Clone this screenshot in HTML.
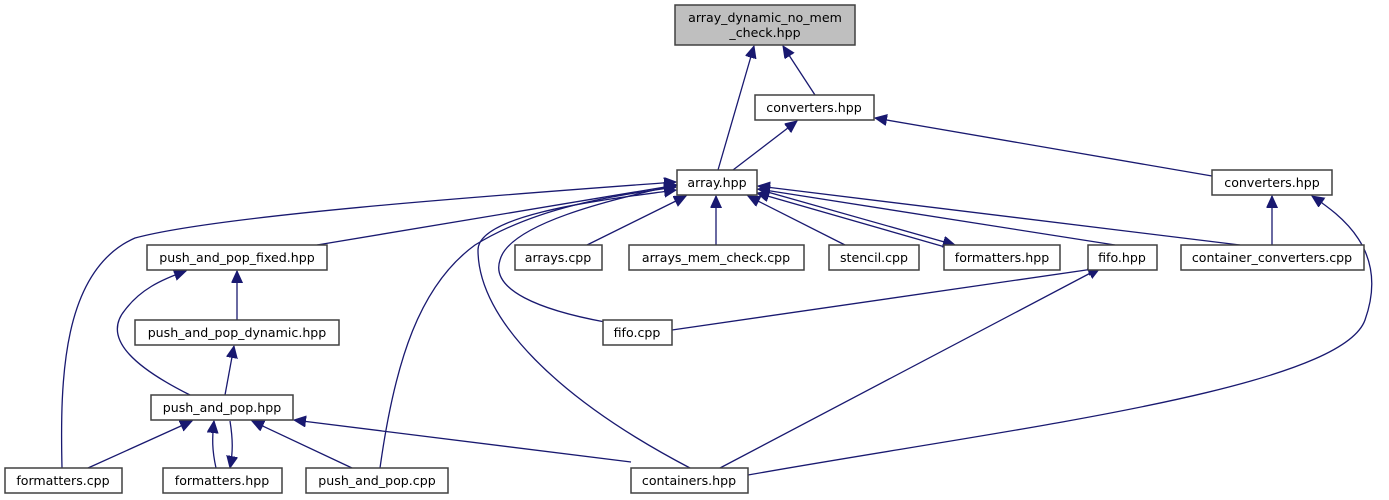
<!DOCTYPE html>
<html><head><meta charset="utf-8"><style>
html,body{margin:0;padding:0;background:#fff;width:1389px;height:500px;overflow:hidden}
svg{display:block}
text{font-family:"DejaVu Sans","Liberation Sans",sans-serif;font-size:12.6px;fill:#000;text-anchor:middle}
rect{fill:#fff;stroke:#404040;stroke-width:1.5}
path{fill:none;stroke:#191970;stroke-width:1.3}
</style></head><body>
<svg width="1389" height="500" viewBox="0 0 1389 500" xmlns="http://www.w3.org/2000/svg">
<defs><marker id="a" markerUnits="userSpaceOnUse" markerWidth="14" markerHeight="12" refX="12" refY="5.5" orient="auto"><path d="M0,0 L12,5.5 L0,11 Z" style="fill:#191970;stroke:#191970;stroke-width:1"/></marker></defs>
<g marker-end="url(#a)">
<path d="M718,170 L754,46"/>
<path d="M815,95 L783,46"/>
<path d="M733,170 L797,121"/>
<path d="M1212,176 L875,118"/>
<path d="M1272,245 L1272,196"/>
<path d="M748,475 C1000,430 1340,390 1365,320 C1390,250 1340,215 1312,196"/>
<path d="M587,245 L686,196"/>
<path d="M716,245 L716,196"/>
<path d="M845,245 L748,196"/>
<path d="M945,247 L757,193"/>
<path d="M757,189 L955,245"/>
<path d="M1115,245 L758,189"/>
<path d="M1240,245 L758,186"/>
<path d="M317,245 L677,185"/>
<path d="M62,468 C60,380 62,270 135,238 C220,215 500,195 676,182"/>
<path d="M380,468 C395,360 420,285 475,245 C540,205 620,195 676,187"/>
<path d="M690,468 C560,400 478,320 478,250 C478,212 620,198 676,190"/>
<path d="M605,322 C540,310 490,290 500,260 C510,222 620,198 676,185"/>
<path d="M672,330 L1100,268"/>
<path d="M720,468 L1100,268"/>
<path d="M237,320 L237,271"/>
<path d="M190,395 C140,370 100,340 125,310 C140,290 160,280 186,271"/>
<path d="M225,395 L234,346"/>
<path d="M88,468 L192,421"/>
<path d="M216,468 C212,450 212,438 214,421"/>
<path d="M230,421 C233,440 233,452 230,468"/>
<path d="M352,468 L252,421"/>
<path d="M631,462 L294,420"/>
</g>
<rect x="675" y="5" width="180" height="40" style="fill:#bfbfbf"/>
<text x="765" y="22">array_dynamic_no_mem</text><text x="765" y="37">_check.hpp</text>
<rect x="755" y="95" width="119" height="25"/><text x="814" y="112">converters.hpp</text>
<rect x="677" y="170" width="80" height="25"/><text x="717" y="187">array.hpp</text>
<rect x="1212" y="170" width="120" height="25"/><text x="1272" y="187">converters.hpp</text>
<rect x="147" y="245" width="180" height="25"/><text x="237" y="262">push_and_pop_fixed.hpp</text>
<rect x="515" y="245" width="87" height="25"/><text x="558" y="262">arrays.cpp</text>
<rect x="629" y="245" width="175" height="25"/><text x="716" y="262">arrays_mem_check.cpp</text>
<rect x="829" y="245" width="90" height="25"/><text x="874" y="262">stencil.cpp</text>
<rect x="944" y="245" width="116" height="25"/><text x="1002" y="262">formatters.hpp</text>
<rect x="1088" y="245" width="69" height="25"/><text x="1122" y="262">fifo.hpp</text>
<rect x="1181" y="245" width="183" height="25"/><text x="1272" y="262">container_converters.cpp</text>
<rect x="135" y="320" width="204" height="25"/><text x="237" y="337">push_and_pop_dynamic.hpp</text>
<rect x="603" y="320" width="69" height="25"/><text x="637" y="337">fifo.cpp</text>
<rect x="151" y="395" width="142" height="25"/><text x="222" y="412">push_and_pop.hpp</text>
<rect x="5" y="468" width="117" height="25"/><text x="63" y="485">formatters.cpp</text>
<rect x="163" y="468" width="119" height="25"/><text x="222" y="485">formatters.hpp</text>
<rect x="306" y="468" width="142" height="25"/><text x="377" y="485">push_and_pop.cpp</text>
<rect x="631" y="468" width="117" height="25"/><text x="689" y="485">containers.hpp</text>
</svg>
</body></html>
